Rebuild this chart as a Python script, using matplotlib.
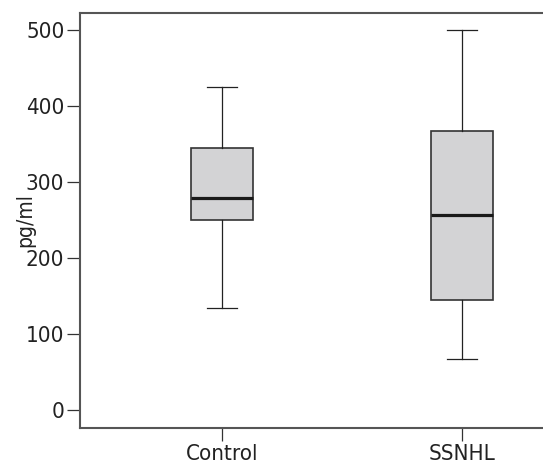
import matplotlib
matplotlib.use('Agg')
import matplotlib.pyplot as plt

# Box plot summary (pg/ml)
groups = ["Control", "SSNHL"]
whisker_low = [134, 67]
q1 = [250, 145]
median = [279, 256]
q3 = [345, 367]
whisker_high = [425, 500]
yticks = [0, 100, 200, 300, 400, 500]

plt.rcParams['font.family'] = ['DejaVu Sans']
plt.rcParams['font.stretch'] = 'condensed'

fig = plt.figure(figsize=(5.43, 4.73), dpi=100)
ax = fig.add_axes([0.148, 0.095, 0.852, 0.8775])

stats = []
for i, g in enumerate(groups):
    stats.append(dict(label=g, whislo=whisker_low[i], q1=q1[i], med=median[i],
                      q3=q3[i], whishi=whisker_high[i], fliers=[]))

ax.bxp(stats, positions=[1, 2], widths=0.258, capwidths=0.125,
       patch_artist=True, showfliers=False,
       boxprops=dict(facecolor='#d3d3d5', edgecolor='#333333', linewidth=1.2),
       whiskerprops=dict(color='#222222', linewidth=0.9),
       capprops=dict(color='#222222', linewidth=0.9),
       medianprops=dict(color='#1a1a1a', linewidth=2.3))

ax.set_xlim(0.41, 2.3375)
ax.set_ylim(-24, 522)
ax.set_yticks(yticks)
ax.set_xticks([1, 2])
ax.set_xticklabels(groups)

for s in ['top', 'bottom', 'left']:
    ax.spines[s].set_color('#555555')
    ax.spines[s].set_linewidth(1.5)
ax.spines['right'].set_visible(False)

ax.tick_params(axis='both', length=9.5, width=0.9, color='#333333',
               labelsize=16, labelcolor='#222222', pad=2)
ax.set_ylabel("pg/ml", fontsize=15, color='#222222', labelpad=-7)

fig.savefig("out.png", dpi=100)
